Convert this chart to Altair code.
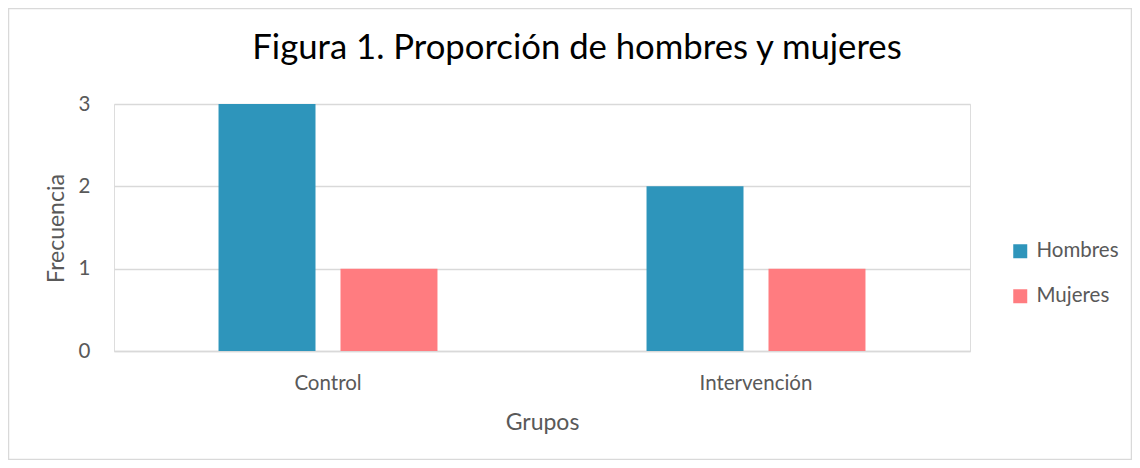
import altair as alt
import pandas as pd

grupos = ["Control", "Intervención"]
series = ["Hombres", "Mujeres"]
hombres = [3, 2]
mujeres = [1, 1]
colores = ["#2E95BB", "#FF7C80"]
y_ticks = [0, 1, 2, 3]

rows = []
for g, h, m in zip(grupos, hombres, mujeres):
    rows.append({"Grupo": g, "Sexo": "Hombres", "Frecuencia": h})
    rows.append({"Grupo": g, "Sexo": "Mujeres", "Frecuencia": m})
df = pd.DataFrame(rows)

FONT = "Lato"
GRAY = "#595959"

bars = alt.Chart(df).mark_bar().encode(
    x=alt.X(
        "Grupo:N",
        sort=grupos,
        scale=alt.Scale(paddingInner=0, paddingOuter=0),
        axis=alt.Axis(
            title="Grupos",
            labelAngle=0,
            labelFont=FONT,
            labelFontSize=20.5,
            labelColor=GRAY,
            labelBaseline="alphabetic",
            labelPadding=38,
            ticks=False,
            tickSize=0,
            domain=True,
            domainColor="#D9D9D9",
            domainWidth=1.5,
            titleFont=FONT,
            titleFontSize=23,
            titleFontWeight="normal",
            titleColor=GRAY,
            titleX=428,
            titleY=78.5,
            titleBaseline="alphabetic",
            titleAlign="center",
        ),
    ),
    xOffset=alt.XOffset(
        "Sexo:N",
        sort=series,
        scale=alt.Scale(paddingInner=0.205, paddingOuter=0.857),
    ),
    y=alt.Y(
        "Frecuencia:Q",
        scale=alt.Scale(domain=[0, 3], nice=False),
        axis=alt.Axis(
            title="Frecuencia",
            values=y_ticks,
            format="d",
            labelFont=FONT,
            labelFontSize=20.5,
            labelColor=GRAY,
            labelPadding=24,
            ticks=False,
            tickSize=0,
            domain=False,
            grid=True,
            gridColor="#D9D9D9",
            gridWidth=1.5,
            titleFont=FONT,
            titleFontSize=23,
            titleFontWeight="normal",
            titleColor=GRAY,
            titleX=-58,
            titleY=124,
            titleAngle=-90,
            titleBaseline="middle",
            titleAlign="center",
        ),
    ),
    color=alt.Color(
        "Sexo:N",
        sort=series,
        scale=alt.Scale(domain=series, range=colores),
        legend=alt.Legend(
            title=None,
            orient="none",
            legendX=896,
            legendY=137,
            symbolType="square",
            symbolSize=196,
            symbolStrokeWidth=0,
            labelFont=FONT,
            labelFontSize=20.5,
            labelColor=GRAY,
            labelOffset=6,
            rowPadding=24,
            padding=0,
        ),
    ),
)

border = alt.Chart(alt.Data(values=[{"a": 1}])).mark_rect(
    fill=None, stroke="#D9D9D9", strokeWidth=1.5
).encode(
    x=alt.value(-105.5),
    x2=alt.value(1017.5),
    y=alt.value(-95.5),
    y2=alt.value(355.5),
)

chart = alt.layer(border, bars).properties(
    width=856,
    height=247,
    autosize=alt.AutoSizeParams(type="none"),
    padding={"left": 106, "top": 96, "right": 162, "bottom": 109},
    title=alt.TitleParams(
        text="Figura 1. Proporción de hombres y mujeres",
        font=FONT,
        fontSize=34.7,
        fontWeight="normal",
        color="#000000",
        anchor="middle",
        dx=35,
        offset=-86,
        baseline="alphabetic",
    ),
).configure_view(stroke=None).configure(background="white")

chart.save("out.html", embed_options={"renderer": "svg", "actions": False})
